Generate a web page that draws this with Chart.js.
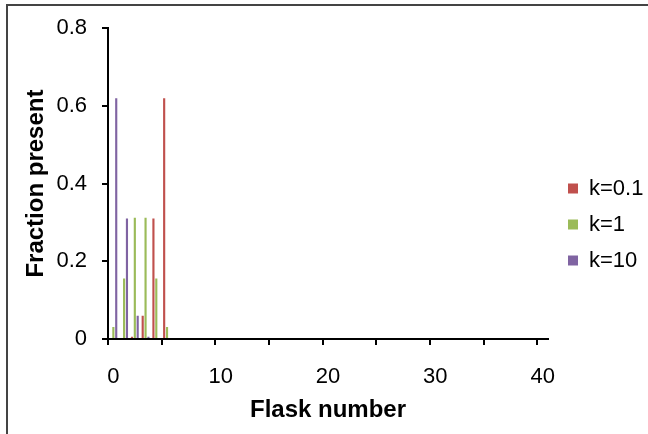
<!DOCTYPE html>
<html>
<head>
<meta charset="utf-8">
<script src="https://cdn.jsdelivr.net/npm/chart.js@4.4.1/dist/chart.umd.min.js"></script>
<style>
  body { margin: 0; background: #fff; }
  canvas { display: block; }
</style>
</head>
<body>
<canvas id="flaskchart" width="648" height="434"></canvas>
<script>
// flask numbers on the x axis
const flasks = [
  "0", "1", "2", "3", "4", "5", "6", "7", "8", "9", "10",
  "11", "12", "13", "14", "15", "16", "17", "18", "19", "20",
  "21", "22", "23", "24", "25", "26", "27", "28", "29", "30",
  "31", "32", "33", "34", "35", "36", "37", "38", "39", "40",
];

// fraction present per flask (flasks past 5 are empty)
const k01 = [0, 0, 0.006, 0.06, 0.31, 0.62];
const k1 = [0.031, 0.156, 0.312, 0.312, 0.156, 0.031];
const k10 = [0.62, 0.31, 0.06, 0.006, 0, 0];

const yTicks = [0, 0.2, 0.4, 0.6, 0.8];

const fontName = "'Liberation Sans', Arial, sans-serif";

// frame line along the left and top edge
const framePlugin = {
  id: "frame",
  afterDraw(chart) {
    const ctx = chart.ctx;
    ctx.save();
    ctx.strokeStyle = "#444";
    ctx.lineWidth = 2;
    ctx.beginPath();
    ctx.moveTo(7, 434);
    ctx.lineTo(7, 5);
    ctx.lineTo(648, 5);
    ctx.stroke();
    ctx.restore();
  },
};

// move the legend a bit away from the plot and let it run to the edge
const legendShift = {
  id: "legendShift",
  afterLayout(chart) {
    const lg = chart.legend;
    const dx = chart.chartArea.right + 20 - (lg.left + lg.options.labels.padding);
    lg.left += dx;
    lg.right = chart.width;
    lg.width = lg.right - lg.left;
  },
};

new Chart(document.getElementById("flaskchart"), {
  type: "bar",
  data: {
    labels: flasks,
    datasets: [
      { label: "k=0.1", data: k01, backgroundColor: "#C0504D" },
      { label: "k=1", data: k1, backgroundColor: "#9BBB59" },
      { label: "k=10", data: k10, backgroundColor: "#8064A2" },
    ],
  },
  options: {
    responsive: false,
    animation: false,
    categoryPercentage: 0.8,
    barPercentage: 0.75,
    layout: {
      padding: { top: 26, bottom: 11, left: 0, right: 20 },
    },
    scales: {
      x: {
        afterFit: (s) => { s.height = 84; },
        grid: {
          drawOnChartArea: false,
          drawTicks: true,
          tickLength: 6,
          lineWidth: 2,
          color: (c) => (c.index % 5 === 0 && c.index <= 40 ? "#000" : "rgba(0,0,0,0)"),
        },
        border: { display: true, color: "#000", width: 2 },
        ticks: {
          autoSkip: false,
          maxRotation: 0,
          padding: 19,
          color: "#000",
          font: { family: fontName, size: 22 },
          callback: (v, i) => (i % 10 === 0 ? flasks[i] : ""),
        },
        title: {
          display: true,
          text: "Flask number",
          color: "#000",
          padding: { top: 0, bottom: 1 },
          font: { family: fontName, size: 24, weight: "bold", lineHeight: 1 },
        },
      },
      y: {
        min: yTicks[0],
        max: yTicks[yTicks.length - 1],
        afterFit: (s) => { s.width = 108; },
        afterBuildTicks: (s) => { s.ticks = yTicks.map((v) => ({ value: v })); },
        grid: {
          drawOnChartArea: false,
          drawTicks: true,
          tickLength: 6,
          lineWidth: 2,
          color: "#000",
        },
        border: { display: true, color: "#000", width: 2 },
        ticks: {
          padding: 15,
          color: "#000",
          font: { family: fontName, size: 22 },
        },
        title: {
          display: true,
          text: "Fraction present",
          color: "#000",
          padding: { top: 24, bottom: 0 },
          font: { family: fontName, size: 24, weight: "bold", lineHeight: 1 },
        },
      },
    },
    plugins: {
      legend: {
        display: true,
        position: "right",
        maxWidth: 80,
        labels: {
          boxWidth: 10,
          boxHeight: 10,
          padding: 14,
          color: "#000",
          font: { family: fontName, size: 22 },
        },
      },
      tooltip: { enabled: false },
    },
  },
  plugins: [framePlugin, legendShift],
});
</script>
</body>
</html>
